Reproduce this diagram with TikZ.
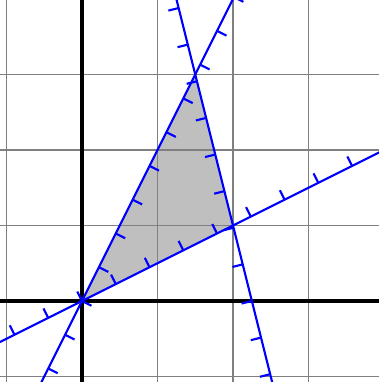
\documentclass[tikz,border=0pt]{standalone}
\begin{document}
\begin{tikzpicture}[x=1cm,y=1cm,
  gridline/.style={gray, line width=0.4pt},
  axisline/.style={black, line width=1.2pt},
  constraint/.style={blue, line width=0.8pt},
  hatchmark/.style={blue, line width=0.8pt}]
\useasboundingbox (-1.086,-1.073) rectangle (3.934,3.987);
\clip (-1.086,-1.073) rectangle (3.934,3.987);
\coordinate (O) at (0,0);
\coordinate (A) at (2,1);
\coordinate (B) at (1.5,3);
\fill[black!25] (O) -- (A) -- (B) -- cycle;
\draw[gridline] (-2,-2) grid (5,5);
\draw[axisline] (-2,0) -- (5,0);
\draw[axisline] (0,-2) -- (0,5);
% y = 2x
\coordinate (L1s) at (-1,-2);
\coordinate (L1e) at (2.5,5);
\draw[constraint] (L1s) -- (L1e);
\foreach \k in {-4,...,10}
  \draw[hatchmark] ({\k*0.5/sqrt(5)},{\k/sqrt(5)}) -- ++(0.1252,-0.0626);
% y = x/2
\coordinate (L2s) at (-2,-1);
\coordinate (L2e) at (5,2.5);
\draw[constraint] (L2s) -- (L2e);
\foreach \k in {-4,...,10}
  \draw[hatchmark] ({\k/sqrt(5)},{\k*0.5/sqrt(5)}) -- ++(-0.0626,0.1252);
% y = -4x + 9
\coordinate (L3s) at (2.75,-2);
\coordinate (L3e) at (1,5);
\draw[constraint] (L3s) -- (L3e);
\foreach \k in {-4,...,10}
  \draw[hatchmark] ({2.25-\k*0.5/sqrt(17)},{\k*2/sqrt(17)}) -- ++(-0.1358,-0.0340);
\end{tikzpicture}
\end{document}
